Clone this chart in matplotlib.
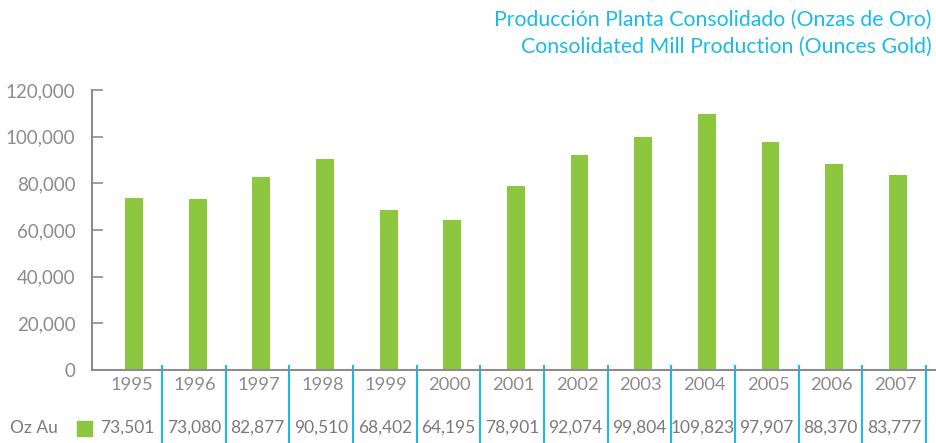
import numpy as np
import matplotlib.pyplot as plt
from matplotlib.patches import Rectangle
import matplotlib.ticker as mticker

years = ['1995', '1996', '1997', '1998', '1999', '2000', '2001',
         '2002', '2003', '2004', '2005', '2006', '2007']
oz_au = [73501, 73080, 82877, 90510, 68402, 64195, 78901,
         92074, 99804, 109823, 97907, 88370, 83777]
yticks = [0, 20000, 40000, 60000, 80000, 100000, 120000]
title1 = 'Producción Planta Consolidado (Onzas de Oro)'
title2 = 'Consolidated Mill Production (Ounces Gold)'

green = '#8dc63f'
cyan = '#1bbbe6'
grey = '#8c8c8c'
plt.rcParams['font.family'] = ['Lato', 'DejaVu Sans']

W, H = 936, 443
fig = plt.figure(figsize=(W / 100, H / 100), dpi=100)
ax = fig.add_axes([92 / W, 1 - 370 / H, 1 - 92 / W, 280 / H])

x = np.arange(len(years))
ax.bar(x, oz_au, width=0.28, color=green, zorder=2)
ax.set_xlim(-0.66, 12.6)
ax.set_ylim(0, 120000)

ax.set_yticks(yticks)
ax.yaxis.set_major_formatter(mticker.FuncFormatter(lambda v, p: f'{int(v):,}'))
ax.set_xticks(x - 0.04)
ax.set_xticklabels(years)
ax.tick_params(axis='y', direction='in', length=8, width=1.2, color=grey,
               labelcolor=grey, labelsize=13.5, pad=12)
ax.tick_params(axis='x', length=0, labelcolor=grey, labelsize=13.2, pad=5)

for s in ['top', 'right']:
    ax.spines[s].set_visible(False)
for s in ['left', 'bottom']:
    ax.spines[s].set_color(grey)
    ax.spines[s].set_linewidth(1.5)

# table separators
seps = x + 0.44
for sx in seps:
    ax.plot([sx, sx], [0.015, -0.262], color=cyan, lw=1.5,
            transform=ax.get_xaxis_transform(), clip_on=False)

edges = np.concatenate([[-0.66], seps])
for i, v in enumerate(oz_au):
    cx = (edges[i] + edges[i + 1]) / 2
    ax.text(cx, -0.205, f'{v:,}', transform=ax.get_xaxis_transform(),
            ha='center', va='center', color='#7a7a7a', fontsize=12.5)

fig.text(10 / W, 1 - 428 / H, 'Oz Au', ha='left', va='center', color='#7a7a7a',
         fontsize=12.5)
fig.add_artist(Rectangle((77 / W, 1 - 436 / H), 15 / W, 15 / H,
                         transform=fig.transFigure, color=green))

fig.text(932 / W, 1 - 20 / H, title1, ha='right', va='center', color=cyan,
         fontsize=15.3)
fig.text(932 / W, 1 - 47 / H, title2, ha='right', va='center', color=cyan,
         fontsize=15.3)

fig.savefig('out.png', dpi=100)
